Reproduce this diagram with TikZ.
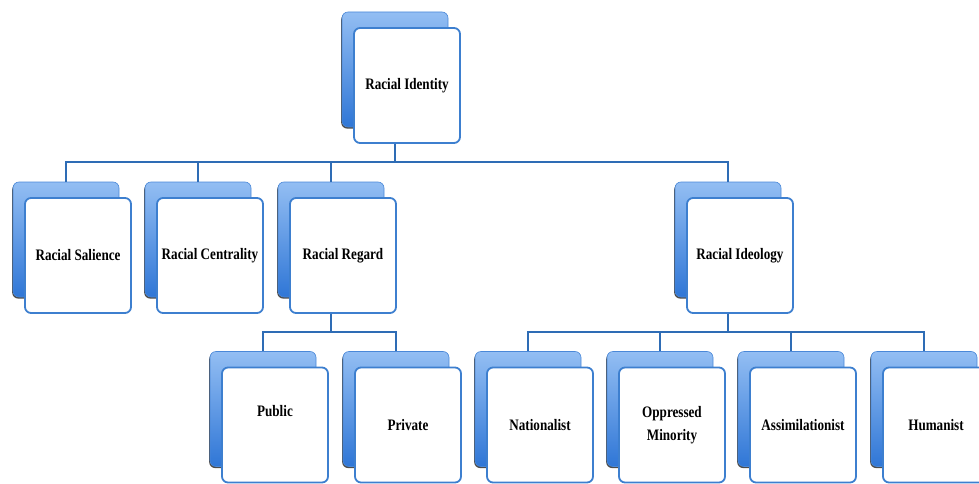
\documentclass[tikz,border=0pt]{standalone}
\usepackage{fontspec}
\usepackage{xcolor}
\usepackage{tikz}
\usetikzlibrary{shadows}
\newfontfamily\boxfont{Liberation Serif}[FakeStretch=0.82]
\definecolor{boxtop}{HTML}{93BEF3}
\definecolor{boxbot}{HTML}{2F76D6}
\definecolor{boxedge}{HTML}{4A88D8}
\definecolor{frontedge}{HTML}{3D7FCF}
\definecolor{linkblue}{HTML}{2E6CB5}

\begin{document}
\begin{tikzpicture}[x=1pt,y=-1pt,
        backbox/.style={minimum width=106pt,minimum height=115pt,rounded corners=6pt,
            top color=boxtop,bottom color=boxbot,draw=boxedge,line width=0.6pt,
            drop shadow={shadow xshift=-0.8pt,shadow yshift=-1.6pt,fill=black,opacity=0.7}},
        boxtext/.style={font=\boxfont\bfseries\fontsize{16}{23}\selectfont,align=center,text=black},
        frontbox/.style={minimum width=106pt,minimum height=115pt,rounded corners=6pt,
            fill=white,draw=frontedge,line width=1.8pt,boxtext,inner sep=2pt},
        link/.style={draw=linkblue,line width=2.8pt}]
        \useasboundingbox (0,0) rectangle (979,484);

        % top
        \node[backbox] (idb) at (395,69.5) {};
        \node[frontbox] (idf) at (407,85.5) {Racial Identity};

        % second row
        \node[backbox] (salb) at (66,239.5) {};
        \node[frontbox] (salf) at (78,255.5) {Racial Salience};
        \node[backbox] (cenb) at (198,239.5) {};
        \node[frontbox] (cenf) at (210,255.5) {Racial Centrality};
        \node[backbox] (regb) at (331,239.5) {};
        \node[frontbox] (regf) at (343,255.5) {Racial Regard};
        \node[backbox] (ideb) at (728,239.5) {};
        \node[frontbox] (idef) at (740,255.5) {Racial Ideology};

        % third row
        \node[backbox] (pubb) at (263,409) {};
        \node[frontbox,label={[boxtext,yshift=14pt]center:Public}] (pubf) at (275,425) {};
        \node[backbox] (prib) at (396,409) {};
        \node[frontbox] (prif) at (408,425) {Private};
        \node[backbox] (natb) at (528,409) {};
        \node[frontbox] (natf) at (540,425) {Nationalist};
        \node[backbox] (oppb) at (660,409) {};
        \node[frontbox] (oppf) at (672,425) {Oppressed\\Minority};
        \node[backbox] (assb) at (791,409) {};
        \node[frontbox] (assf) at (803,425) {Assimilationist};
        \node[backbox] (humb) at (924,409) {};
        \node[frontbox] (humf) at (936,425) {Humanist};

        \coordinate (bus1) at (0,162);
        \coordinate (bus2) at (0,332);

        % connectors
        \foreach \c in {salb,cenb,regb,ideb}
            \draw[link] (idf.south -| idb.center) -- (idb.center |- bus1) -| (\c.north);
        \foreach \c in {pubb,prib}
            \draw[link] (regf.south -| regb.center) -- (regb.center |- bus2) -| (\c.north);
        \foreach \c in {natb,oppb,assb,humb}
            \draw[link] (idef.south -| ideb.center) -- (ideb.center |- bus2) -| (\c.north);
    \end{tikzpicture}
\end{document}
